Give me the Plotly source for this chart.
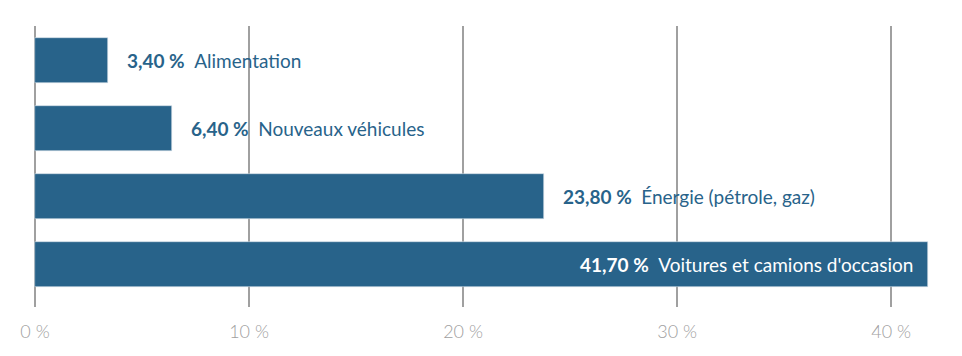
import plotly.graph_objects as go

categories = ["Alimentation", "Nouveaux véhicules", "Énergie (pétrole, gaz)", "Voitures et camions d'occasion"]
values = [3.40, 6.40, 23.80, 41.70]
value_labels = ["3,40 %", "6,40 %", "23,80 %", "41,70 %"]
tick_vals = [0, 10, 20, 30, 40]
tick_text = ["0 %", "10 %", "20 %", "30 %", "40 %"]

BAR = "#28638a"
positions = list(range(len(categories)))

fig = go.Figure()
fig.add_trace(go.Bar(
    x=values, y=positions, orientation="h",
    marker=dict(color=BAR, line=dict(color="#d5e0e8", width=0.6)),
    width=0.66, hoverinfo="skip",
))

for i, (v, lab, cat) in enumerate(zip(values, value_labels, categories)):
    inside = v == max(values)
    fig.add_annotation(
        x=v, y=i, xref="x", yref="y",
        text=f"<b>{lab}</b>\u2002{cat}",
        showarrow=False,
        xanchor="right" if inside else "left",
        xshift=-13 if inside else 17,
        font=dict(family="Lato", size=19, color="white" if inside else BAR),
    )

fig.update_layout(
    width=962, height=356,
    margin=dict(l=23, r=30, t=18, b=57),
    plot_bgcolor="white", paper_bgcolor="white",
    showlegend=False,
    bargap=0,
    xaxis=dict(
        range=[-0.093, 42.28],
        tickvals=tick_vals, ticktext=tick_text,
        showgrid=True, gridcolor="#a0a0a0", gridwidth=2,
        zeroline=False, showline=False, ticks="",
        ticklabelstandoff=12,
        tickfont=dict(family="Lato", size=18, color="#a0a0a0", weight=300),
    ),
    yaxis=dict(
        range=[3.625, -0.507],
        showgrid=False, zeroline=False, showticklabels=False, ticks="",
    ),
)

fig.write_html("out.html")
